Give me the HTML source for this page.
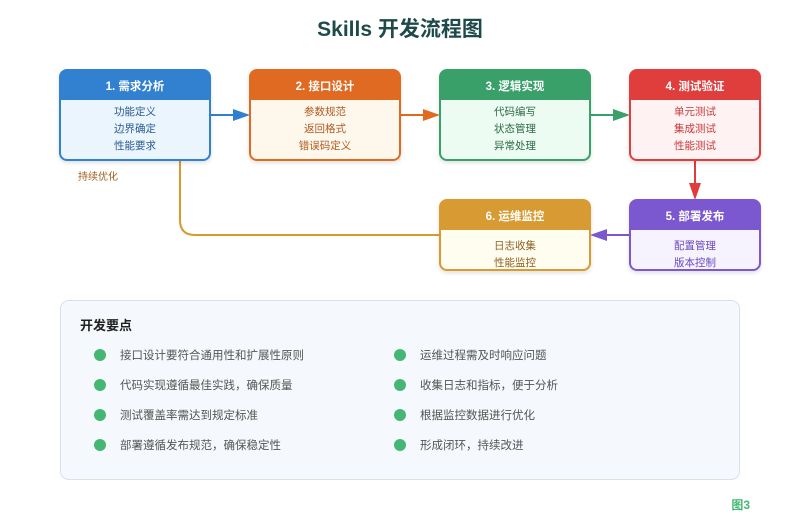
<!DOCTYPE html>
<html><head><meta charset="utf-8"><style>
html,body{margin:0;padding:0;background:#fff;}
svg text{font-family:"Liberation Sans","Noto Sans CJK SC",sans-serif;}
</style></head><body>
<svg width="800" height="520" viewBox="0 0 800 520" xmlns="http://www.w3.org/2000/svg">
<defs>
<filter id="sh" x="-10%" y="-10%" width="120%" height="130%"><feDropShadow dx="0" dy="2" stdDeviation="2" flood-color="#000" flood-opacity="0.12"/></filter>
</defs>
<text x="400" y="36" text-anchor="middle" font-size="21" font-weight="bold" fill="#1f4a4a">Skills 开发流程图</text>

<!-- connectors -->
<line x1="210" y1="115" x2="236" y2="115" stroke="#3080d0" stroke-width="2"/>
<polygon points="250,115 233,109 233,121" fill="#3080d0"/>
<line x1="400" y1="115" x2="426" y2="115" stroke="#e06a20" stroke-width="2"/>
<polygon points="440,115 423,109 423,121" fill="#e06a20"/>
<line x1="590" y1="115" x2="616" y2="115" stroke="#38a068" stroke-width="2"/>
<polygon points="630,115 613,109 613,121" fill="#38a068"/>
<line x1="695" y1="160" x2="695" y2="186" stroke="#e03c3c" stroke-width="2"/>
<polygon points="695,200 689,183 701,183" fill="#e03c3c"/>
<line x1="630" y1="235" x2="604" y2="235" stroke="#7c58d0" stroke-width="2"/>
<polygon points="590,235 607,229 607,241" fill="#7c58d0"/>
<path d="M440,235 H195 Q180,235 180,220 V110 Q180,96 166,95" fill="none" stroke="#d89a30" stroke-width="2"/>
<polygon points="155,93 170,86 168,100" fill="#d89a30"/>
<text x="78" y="180" font-size="10" fill="#a06020">持续优化</text>

<!-- boxes -->
<g filter="url(#sh)">
<rect x="60" y="70" width="150" height="90" rx="7" fill="#eaf5fe" stroke="#3080d0" stroke-width="2"/>
<path d="M60,100 V77 Q60,70 67,70 H203 Q210,70 210,77 V100 Z" fill="#3080d0"/>
<rect x="250" y="70" width="150" height="90" rx="7" fill="#fef7ec" stroke="#e06a20" stroke-width="2"/>
<path d="M250,100 V77 Q250,70 257,70 H393 Q400,70 400,77 V100 Z" fill="#e06a20"/>
<rect x="440" y="70" width="150" height="90" rx="7" fill="#ecfcf2" stroke="#38a068" stroke-width="2"/>
<path d="M440,100 V77 Q440,70 447,70 H583 Q590,70 590,77 V100 Z" fill="#38a068"/>
<rect x="630" y="70" width="130" height="90" rx="7" fill="#fef2f2" stroke="#e03c3c" stroke-width="2"/>
<path d="M630,100 V77 Q630,70 637,70 H753 Q760,70 760,77 V100 Z" fill="#e03c3c"/>
<rect x="630" y="200" width="130" height="70" rx="7" fill="#f7f3fe" stroke="#7c58d0" stroke-width="2"/>
<path d="M630,230 V207 Q630,200 637,200 H753 Q760,200 760,207 V230 Z" fill="#7c58d0"/>
<rect x="440" y="200" width="150" height="70" rx="7" fill="#fefdef" stroke="#d89a30" stroke-width="2"/>
<path d="M440,230 V207 Q440,200 447,200 H583 Q590,200 590,207 V230 Z" fill="#d89a30"/>
</g>

<g font-size="11.5" font-weight="bold" fill="#fff" text-anchor="middle">
<text x="135" y="90">1. 需求分析</text>
<text x="325" y="90">2. 接口设计</text>
<text x="515" y="90">3. 逻辑实现</text>
<text x="695" y="90">4. 测试验证</text>
<text x="695" y="220">5. 部署发布</text>
<text x="515" y="220">6. 运维监控</text>
</g>
<g font-size="10.5" text-anchor="middle">
<g fill="#2a5a90"><text x="135" y="115">功能定义</text><text x="135" y="132">边界确定</text><text x="135" y="149">性能要求</text></g>
<g fill="#b05a20"><text x="325" y="115">参数规范</text><text x="325" y="132">返回格式</text><text x="325" y="149">错误码定义</text></g>
<g fill="#2e6a48"><text x="515" y="115">代码编写</text><text x="515" y="132">状态管理</text><text x="515" y="149">异常处理</text></g>
<g fill="#c83a3a"><text x="695" y="115">单元测试</text><text x="695" y="132">集成测试</text><text x="695" y="149">性能测试</text></g>
<g fill="#6a48c0"><text x="695" y="249">配置管理</text><text x="695" y="266">版本控制</text></g>
<g fill="#906020"><text x="515" y="249">日志收集</text><text x="515" y="266">性能监控</text></g>
</g>

<!-- panel -->
<rect x="60.5" y="300.5" width="679" height="179" rx="8" fill="#f5f8fc" stroke="#d8e0ea"/>
<text x="80" y="330" font-size="13" font-weight="bold" fill="#222">开发要点</text>
<g fill="#44b872">
<circle cx="100" cy="355" r="6"/><circle cx="100" cy="385" r="6"/><circle cx="100" cy="415" r="6"/><circle cx="100" cy="445" r="6"/>
<circle cx="400" cy="355" r="6"/><circle cx="400" cy="385" r="6"/><circle cx="400" cy="415" r="6"/><circle cx="400" cy="445" r="6"/>
</g>
<g font-size="11.5" fill="#555">
<text x="120" y="359">接口设计要符合通用性和扩展性原则</text>
<text x="120" y="389">代码实现遵循最佳实践，确保质量</text>
<text x="120" y="419">测试覆盖率需达到规定标准</text>
<text x="120" y="449">部署遵循发布规范，确保稳定性</text>
<text x="420" y="359">运维过程需及时响应问题</text>
<text x="420" y="389">收集日志和指标，便于分析</text>
<text x="420" y="419">根据监控数据进行优化</text>
<text x="420" y="449">形成闭环，持续改进</text>
</g>
<text x="750" y="509" text-anchor="end" font-size="12" font-weight="bold" fill="#44b872">图3</text>
</svg>
</body></html>
